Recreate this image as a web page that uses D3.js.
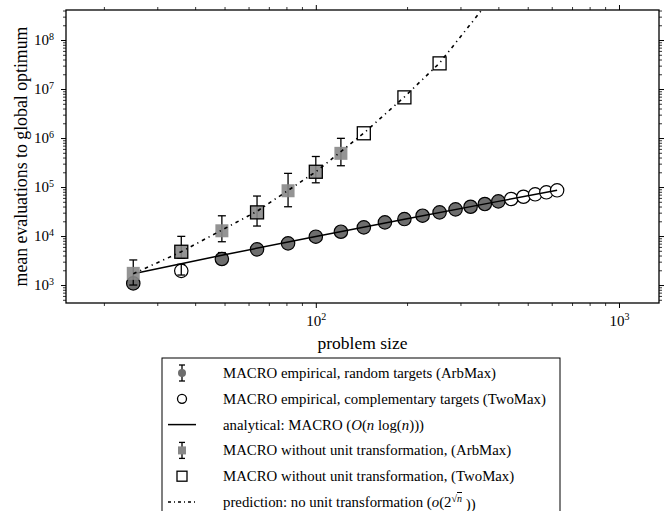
<!DOCTYPE html>
<html>
<head>
<meta charset="utf-8">
<script src="https://cdn.jsdelivr.net/npm/d3@7"></script>
<style>
  body { margin: 0; background: #fff; }
  text, tspan { font-family: "Liberation Serif", "Times New Roman", serif; fill: #000; }
</style>
</head>
<body>
<div id="chart"></div>
<script>
// problem sizes and mean evaluations
const arbSizes   = [25, 49, 64, 81, 100, 121, 144, 169, 196, 225, 256, 289, 324, 361, 400];
const arbMeans   = [1080, 3400, 5350, 7100, 9700, 12250, 15000, 19000, 22200, 26000, 30400, 35000, 39600, 45000, 51000];
const arbLow     = [900, 2800, 4700, 6400, 8900, 11300, 14000, 17800, 21000, 24700, 29000, 33500, 38000, 43300, 49000];
const arbHigh    = [1300, 4600, 6100, 7900, 10600, 13300, 16100, 20300, 23500, 27400, 31900, 36600, 41300, 46800, 53000];

const twoSizes   = [36, 441, 484, 529, 576, 625];
const twoMeans   = [1950, 57000, 63400, 71000, 78000, 85700];
const twoLow     = [1600, null, null, null, null, null];
const twoHigh    = [2640, null, null, null, null, null];

const analyticSizes = [25, 49, 100, 196, 400, 625];
const analyticEvals = [1700, 4050, 9800, 22000, 51000, 86000];

const noUnitArbSizes = [25, 36, 49, 64, 81, 100, 121];
const noUnitArbMeans = [1730, 4780, 12800, 30400, 84000, 205000, 487000];
const noUnitArbLow   = [1000, 3500, 7650, 16000, 39600, 122000, 272000];
const noUnitArbHigh  = [3250, 9850, 25900, 65500, 190000, 420000, 986000];

const noUnitTwoSizes = [36, 64, 100, 144, 196, 256];
const noUnitTwoMeans = [4780, 30400, 205000, 1250000, 6760000, 33400000];

const predSizes = [25, 36, 64, 100, 144, 196, 256, 360];
const predEvals = [1700, 4780, 32000, 205000, 1260000, 6900000, 34000000, 480000000];

const xMajor = [100, 1000];
const yMajor = [1e3, 1e4, 1e5, 1e6, 1e7, 1e8];

const legendLabels = [
  "MACRO empirical, random targets (ArbMax)",
  "MACRO empirical, complementary targets (TwoMax)",
  "analytical",
  "MACRO without unit transformation, (ArbMax)",
  "MACRO without unit transformation, (TwoMax)",
  "prediction"
];

const width = 668, height = 511;
const plot = { left: 66, right: 659, top: 10, bottom: 303 };
const circleGray = "#6e6e6e", squareGray = "#888888";
const serif = '"Liberation Serif", "Times New Roman", serif';

const svg = d3.select("#chart").append("svg")
    .attr("width", width)
    .attr("height", height);

const x = d3.scaleLog().domain([15, 1355]).range([plot.left, plot.right]);
const y = d3.scaleLog().domain([430, 4.1e8]).range([plot.bottom, plot.top]);

function minorTicks(scale) {
  const [a, b] = scale.domain();
  const out = [];
  for (let e = Math.floor(Math.log10(a)); e <= Math.ceil(Math.log10(b)); e++) {
    for (let m = 2; m <= 9; m++) {
      const v = m * Math.pow(10, e);
      if (v >= a && v <= b) out.push(v);
    }
  }
  return out;
}

function powLabel(sel) {
  sel.each(function(d) {
    const t = d3.select(this);
    t.text(null);
    t.append("tspan").text("10");
    t.append("tspan").attr("dy", "-0.55em").attr("font-size", "10px").text(Math.round(Math.log10(d)));
  });
}

// axes: major + minor ticks on all four sides, pointing outward
const sides = [
  { make: () => d3.axisBottom(x), tr: `translate(0,${plot.bottom})`, major: xMajor, labels: true, s: x },
  { make: () => d3.axisTop(x), tr: `translate(0,${plot.top})`, major: xMajor, labels: false, s: x },
  { make: () => d3.axisLeft(y), tr: `translate(${plot.left},0)`, major: yMajor, labels: true, s: y },
  { make: () => d3.axisRight(y), tr: `translate(${plot.right},0)`, major: yMajor, labels: false, s: y }
];

sides.forEach(a => {
  const g = svg.append("g").attr("transform", a.tr);
  g.call(a.make().tickValues(a.major).tickSize(5).tickSizeOuter(0).tickPadding(7)
      .tickFormat(a.labels ? (d => d) : ""));
  g.attr("font-family", serif);
  g.select(".domain").remove();
  g.selectAll("line").attr("stroke", "#000").attr("stroke-width", 1);
  g.selectAll("text").attr("font-size", "15px");
  if (a.labels) g.selectAll(".tick text").call(powLabel);

  const gm = svg.append("g").attr("transform", a.tr);
  gm.call(a.make().tickValues(minorTicks(a.s)).tickSize(3).tickSizeOuter(0).tickFormat(""));
  gm.select(".domain").remove();
  gm.selectAll("line").attr("stroke", "#000").attr("stroke-width", 0.8);
});

svg.append("defs").append("clipPath").attr("id", "plotClip")
  .append("rect")
    .attr("x", plot.left).attr("y", plot.top)
    .attr("width", plot.right - plot.left).attr("height", plot.bottom - plot.top);

const body = svg.append("g").attr("clip-path", "url(#plotClip)");

function errorBars(g, sizes, low, high, cap) {
  sizes.forEach((n, i) => {
    if (low[i] == null) return;
    const cx = x(n), y0 = y(low[i]), y1 = y(high[i]);
    g.append("line").attr("x1", cx).attr("x2", cx).attr("y1", y0).attr("y2", y1);
    g.append("line").attr("x1", cx - cap).attr("x2", cx + cap).attr("y1", y0).attr("y2", y0);
    g.append("line").attr("x1", cx - cap).attr("x2", cx + cap).attr("y1", y1).attr("y2", y1);
  });
  g.attr("stroke", "#000").attr("stroke-width", 1.3);
}

// empirical MACRO, random targets (filled circles)
errorBars(body.append("g"), arbSizes, arbLow, arbHigh, 4);
body.append("g").selectAll("circle")
  .data(arbSizes.map((n, i) => ({ n, v: arbMeans[i] })))
  .enter().append("circle")
    .attr("cx", d => x(d.n)).attr("cy", d => y(d.v)).attr("r", 6.7)
    .attr("fill", circleGray).attr("stroke", "#000").attr("stroke-width", 1.2);

// empirical MACRO, complementary targets (open circles)
body.append("g").selectAll("circle")
  .data(twoSizes.map((n, i) => ({ n, v: twoMeans[i] })))
  .enter().append("circle")
    .attr("cx", d => x(d.n)).attr("cy", d => y(d.v)).attr("r", 6.7)
    .attr("fill", "#fff").attr("stroke", "#000").attr("stroke-width", 1.2);
errorBars(body.append("g"), twoSizes, twoLow, twoHigh, 4);

// analytical curve
const line = d3.line().x(d => x(d[0])).y(d => y(d[1]));
body.append("path")
  .datum(analyticSizes.map((n, i) => [n, analyticEvals[i]]))
  .attr("d", line)
  .attr("fill", "none").attr("stroke", "#000").attr("stroke-width", 1.5);

// without unit transformation, ArbMax (gray squares)
errorBars(body.append("g"), noUnitArbSizes, noUnitArbLow, noUnitArbHigh, 4);
body.append("g").selectAll("rect")
  .data(noUnitArbSizes.map((n, i) => ({ n, v: noUnitArbMeans[i] })))
  .enter().append("rect")
    .attr("x", d => x(d.n) - 6.5).attr("y", d => y(d.v) - 6.5)
    .attr("width", 13).attr("height", 13)
    .attr("fill", squareGray).attr("fill-opacity", 0.9);

// without unit transformation, TwoMax (open squares)
body.append("g").selectAll("rect")
  .data(noUnitTwoSizes.map((n, i) => ({ n, v: noUnitTwoMeans[i] })))
  .enter().append("rect")
    .attr("x", d => x(d.n) - 6.5).attr("y", d => y(d.v) - 6.5)
    .attr("width", 13).attr("height", 13)
    .attr("fill", "none").attr("stroke", "#000").attr("stroke-width", 1.3);

// prediction
body.append("path")
  .datum(predSizes.map((n, i) => [n, predEvals[i]]))
  .attr("d", line)
  .attr("fill", "none").attr("stroke", "#000").attr("stroke-width", 1.6)
  .attr("stroke-dasharray", "3.5,4,1.2,4");

// frame
svg.append("rect")
  .attr("x", plot.left).attr("y", plot.top)
  .attr("width", plot.right - plot.left).attr("height", plot.bottom - plot.top)
  .attr("fill", "none").attr("stroke", "#000").attr("stroke-width", 1.3);

// axis titles
svg.append("text")
  .attr("x", (plot.left + plot.right) / 2).attr("y", 349)
  .attr("text-anchor", "middle").attr("font-size", "17.5px")
  .text("problem size");

svg.append("text")
  .attr("transform", `translate(27,${(plot.top + plot.bottom) / 2}) rotate(-90)`)
  .attr("text-anchor", "middle").attr("font-size", "17.8px")
  .text("mean evaluations to global optimum");

// legend
const legend = svg.append("g");
legend.append("rect")
  .attr("x", 162).attr("y", 358).attr("width", 398).attr("height", 180)
  .attr("fill", "#fff").attr("stroke", "#000").attr("stroke-width", 1);

const rowY = d3.scalePoint().domain(d3.range(legendLabels.length)).range([373, 502]);
const hx = 182, tx = 223;

legendLabels.forEach((label, i) => {
  const cy = rowY(i);
  const t = legend.append("text")
    .attr("x", tx).attr("y", cy + 5).attr("font-size", "14.8px");
  if (i === 2) {
    t.append("tspan").text("analytical: MACRO (");
    t.append("tspan").attr("font-style", "italic").text("O");
    t.append("tspan").text("(");
    t.append("tspan").attr("font-style", "italic").text("n");
    t.append("tspan").text(" log(");
    t.append("tspan").attr("font-style", "italic").text("n");
    t.append("tspan").text(")))");
  } else if (i === 5) {
    t.append("tspan").text("prediction: no unit transformation (");
    t.append("tspan").attr("font-style", "italic").text("o");
    t.append("tspan").text("(2");
    t.append("tspan").attr("dy", "-0.5em").attr("font-size", "10px").text("√");
    t.append("tspan").attr("font-size", "10px").attr("font-style", "italic")
      .attr("text-decoration", "overline").text("n");
    t.append("tspan").attr("dy", "0.5em").text(" ))");
  } else {
    t.text(label);
  }

  const h = legend.append("g");
  if (i === 0 || i === 3) {
    h.append("line").attr("x1", hx).attr("x2", hx).attr("y1", cy - 8).attr("y2", cy + 8);
    h.append("line").attr("x1", hx - 3).attr("x2", hx + 3).attr("y1", cy - 8).attr("y2", cy - 8);
    h.append("line").attr("x1", hx - 3).attr("x2", hx + 3).attr("y1", cy + 8).attr("y2", cy + 8);
    h.selectAll("line").attr("stroke", "#000").attr("stroke-width", 1.3);
    if (i === 0) h.append("circle").attr("cx", hx).attr("cy", cy).attr("r", 4).attr("fill", circleGray);
    else h.append("rect").attr("x", hx - 4).attr("y", cy - 4).attr("width", 8).attr("height", 8).attr("fill", squareGray);
  } else if (i === 1) {
    h.append("circle").attr("cx", hx).attr("cy", cy).attr("r", 4.5)
      .attr("fill", "none").attr("stroke", "#000").attr("stroke-width", 1.3);
  } else if (i === 4) {
    h.append("rect").attr("x", hx - 5).attr("y", cy - 5).attr("width", 10).attr("height", 10)
      .attr("fill", "none").attr("stroke", "#000").attr("stroke-width", 1.3);
  } else {
    h.append("line").attr("x1", 168).attr("x2", 196).attr("y1", cy).attr("y2", cy)
      .attr("stroke", "#000").attr("stroke-width", 1.5)
      .attr("stroke-dasharray", i === 5 ? "3,3,1,3" : null);
  }
});
</script>
</body>
</html>
